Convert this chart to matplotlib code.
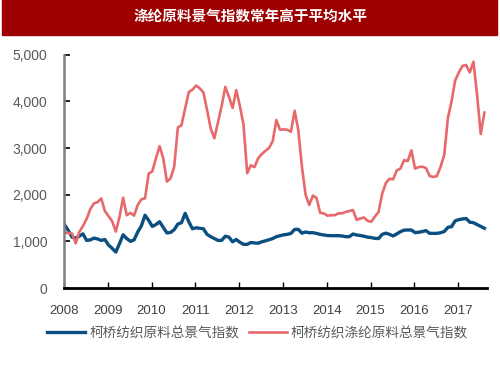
import numpy as np
import matplotlib.pyplot as plt
from matplotlib.patches import Rectangle
from matplotlib.ticker import FuncFormatter

plt.rcParams['font.family'] = ['Liberation Sans', 'Noto Sans CJK SC', 'DejaVu Sans']

# 月度数据 2008.01 - 2017.08
total_idx = [1350, 1230, 1090, 1070, 1110, 1160, 1020, 1030, 1070, 1050,
             1020, 1040, 920, 850, 770, 950, 1140, 1060, 1000, 1030,
             1200, 1330, 1560, 1450, 1320, 1360, 1420, 1300, 1180, 1190,
             1250, 1370, 1400, 1600, 1420, 1270, 1290, 1280, 1270, 1150,
             1100, 1060, 1020, 1020, 1110, 1090, 990, 1040, 980, 936,
             936, 975, 965, 960, 990, 1010, 1035, 1060, 1100, 1120,
             1140, 1150, 1170, 1255, 1257, 1175, 1200, 1185, 1185, 1170,
             1150, 1136, 1125, 1121, 1121, 1121, 1115, 1100, 1100, 1157,
             1136, 1125, 1110, 1090, 1080, 1064, 1060, 1150, 1175, 1150,
             1115, 1160, 1207, 1240, 1243, 1243, 1186, 1195, 1210, 1229,
             1171, 1171, 1171, 1185, 1210, 1300, 1314, 1440, 1465, 1480,
             1490, 1410, 1400, 1360, 1320, 1280]
polyester_idx = [1185, 1180, 1165, 957, 1200, 1330, 1480, 1690, 1814, 1840,
                 1920, 1650, 1540, 1430, 1210, 1520, 1936, 1560, 1610, 1550,
                 1780, 1900, 1921, 2450, 2500, 2780, 3040, 2780, 2280, 2350,
                 2600, 3440, 3490, 3850, 4200, 4250, 4340, 4280, 4190, 3820,
                 3420, 3210, 3550, 3900, 4310, 4100, 3860, 4240, 3900, 3500,
                 2460, 2630, 2590, 2780, 2870, 2940, 3000, 3150, 3600, 3390,
                 3400, 3390, 3350, 3800, 3390, 2600, 2000, 1780, 1980, 1930,
                 1610, 1600, 1550, 1560, 1560, 1600, 1600, 1630, 1650, 1670,
                 1460, 1490, 1510, 1440, 1420, 1530, 1630, 2020, 2250, 2340,
                 2330, 2520, 2560, 2740, 2720, 2950, 2560, 2590, 2600, 2570,
                 2400, 2380, 2400, 2600, 2850, 3640, 4000, 4450, 4620, 4760,
                 4780, 4620, 4850, 4140, 3300, 3760]
years = list(range(2008, 2018))
labels = ['柯桥纺织原料总景气指数', '柯桥纺织涤纶原料总景气指数']
title = '涤纶原料景气指数常年高于平均水平'

t = 2008 + (np.arange(len(total_idx)) + 0.2) / 12

fig = plt.figure(figsize=(5, 3.75), dpi=100)

# 标题栏
fig.patches.append(Rectangle((0.004, 1 - 35 / 375), 0.99, 35 / 375,
                             transform=fig.transFigure, color='#9c0000', zorder=0))
fig.text(0.5, 1 - 17 / 375, title, color='white', fontsize=10.5, fontweight='bold',
         ha='center', va='center')

ax = fig.add_axes([64 / 500, 1 - 288 / 375, (487 - 64) / 500, (288 - 54.7) / 375])
ax.plot(t, total_idx, color='#0b4f80', lw=2.4, label=labels[0])
ax.plot(t, polyester_idx, color='#e8696b', lw=1.9, label=labels[1])

ax.set_xlim(2008, 2017.66)
ax.set_ylim(0, 5000)
ax.set_xticks(years)
ax.set_xticklabels([str(y) for y in years])
ax.set_yticks(range(0, 5001, 1000))
ax.yaxis.set_major_formatter(FuncFormatter(lambda v, p: f'{int(v):,}'))

for s in ['top', 'right']:
    ax.spines[s].set_visible(False)
ax.spines['left'].set_color('#7f7f7f')
ax.spines['left'].set_linewidth(1.8)
ax.spines['bottom'].set_color('black')
ax.spines['bottom'].set_linewidth(2)
ax.tick_params(axis='y', direction='in', length=4, width=1.2, color='black',
               labelsize=10, labelcolor='#595959', pad=12)
ax.tick_params(axis='x', direction='in', length=4, width=1, color='black',
               labelsize=9.5, labelcolor='#404040', pad=12)

fig.legend(loc='center', bbox_to_anchor=(0.515, 1 - 333 / 375), ncol=2, frameon=False,
           fontsize=9.8, handlelength=2.8, columnspacing=0.7, handletextpad=0.3,
           labelcolor='#595959')

fig.savefig('out.png', dpi=100)
